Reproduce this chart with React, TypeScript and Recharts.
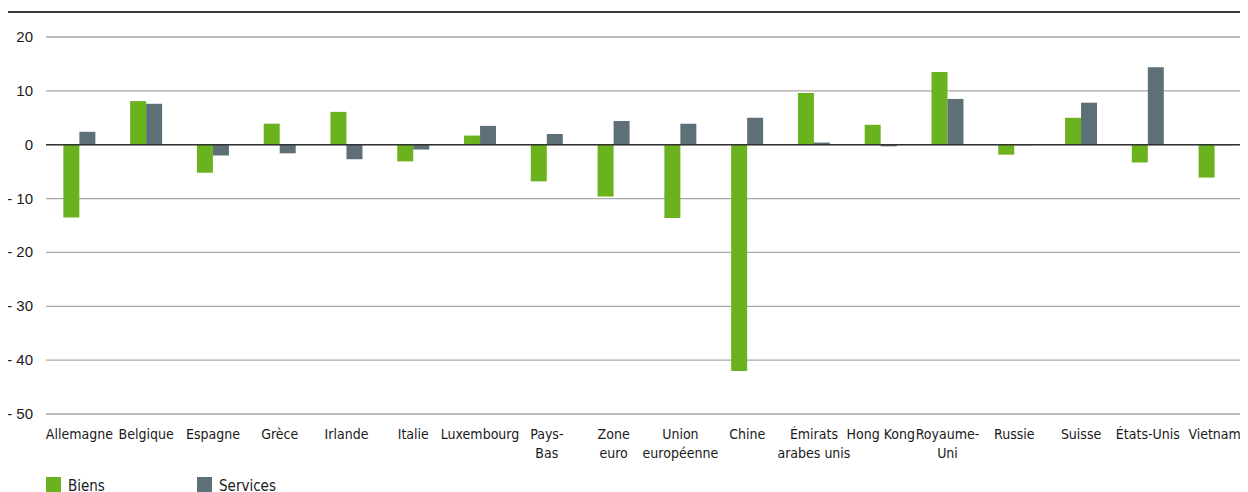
import React from "react";
import { BarChart, Bar, XAxis, YAxis, CartesianGrid, ReferenceLine, Legend } from "recharts";

const categories = [
  "Allemagne",
  "Belgique",
  "Espagne",
  "Grèce",
  "Irlande",
  "Italie",
  "Luxembourg",
  "Pays-\nBas",
  "Zone\neuro",
  "Union\neuropéenne",
  "Chine",
  "Émirats\narabes unis",
  "Hong Kong",
  "Royaume-\nUni",
  "Russie",
  "Suisse",
  "États-Unis",
  "Vietnam",
];

const biens = [-13.5, 8.1, -5.2, 3.9, 6.1, -3.1, 1.7, -6.8, -9.6, -13.6, -42.0, 9.6, 3.7, 13.5, -1.85, 5.0, -3.3, -6.1];
const services = [2.4, 7.6, -2.0, -1.6, -2.7, -0.9, 3.5, 2.0, 4.4, 3.9, 5.0, 0.4, -0.3, 8.5, -0.1, 7.8, 14.4, -0.1];

const yTicks = [20, 10, 0, -10, -20, -30, -40, -50];

const seriesNames = { biens: "Biens", services: "Services" };
const colors = { biens: "#6AB31F", services: "#5E7077" };

const data = categories.map((c, i) => ({ name: c, biens: biens[i], services: services[i] }));

const labelFont = "'DejaVu Sans Condensed', 'Liberation Sans Narrow', 'DejaVu Sans', sans-serif";

const XTick = (props: any) => {
  const { x, payload } = props;
  const lines = String(payload.value).split("\n");
  return (
    <text x={x} y={439} textAnchor="middle" fontFamily={labelFont} fontSize={14} fill="#1a1a1a">
      {lines.map((l, i) => (
        <tspan key={i} x={x} dy={i === 0 ? 0 : 19}>
          {l}
        </tspan>
      ))}
    </text>
  );
};

const YTick = (props: any) => {
  const { y, payload } = props;
  const v = payload.value as number;
  const label = v < 0 ? "- " + Math.abs(v) : String(v);
  return (
    <text x={33} y={y} dy={5} textAnchor="end" fontFamily="'Liberation Sans', Arial, sans-serif" fontSize={15} fill="#1a1a1a">
      {label}
    </text>
  );
};

const LegendContent = () => (
  <div style={{ display: "flex", fontFamily: labelFont, fontSize: 15, color: "#1a1a1a", lineHeight: "16px" }}>
    {(["biens", "services"] as const).map((k) => (
      <div key={k} style={{ display: "flex", alignItems: "flex-start", width: 151 }}>
        <span style={{ display: "inline-block", width: 15, height: 16, background: colors[k], marginRight: 7 }} />
        <span style={{ marginTop: 1 }}>{seriesNames[k]}</span>
      </div>
    ))}
  </div>
);

export default function App() {
  return (
    <div
      style={{
        position: "relative",
        margin: "-8px -8px 0 -8px",
        width: 1248,
        height: 492,
        overflow: "hidden",
        background: "#fff",
      }}
    >
      <div
        style={{
          position: "absolute",
          left: 47,
          top: -12,
          fontFamily: labelFont,
          fontSize: 16,
          color: "#6AB31F",
          whiteSpace: "nowrap",
          lineHeight: "16px",
        }}
      >
        Variation des soldes en glissement, en pp du PIB
      </div>
      <div style={{ position: "absolute", left: 8, top: 11, width: 1240, height: 2, background: "#3a3a3a" }} />
      <div style={{ position: "absolute", left: 0, top: 0 }}>
        <BarChart
          width={1248}
          height={492}
          data={data}
          margin={{ top: 37, right: 0, bottom: 0, left: 0 }}
          barCategoryGap="26%"
          barGap={0}
        >
          <CartesianGrid vertical={false} stroke="#a8a8a8" strokeWidth={1.3} />
          <XAxis dataKey="name" interval={0} tickLine={false} axisLine={false} height={59} tick={<XTick />} />
          <YAxis
            domain={[-50, 20]}
            ticks={yTicks}
            width={46}
            tickLine={false}
            axisLine={false}
            tick={<YTick />}
            allowDataOverflow
          />
          <Legend
            content={<LegendContent />}
            wrapperStyle={{ position: "absolute", left: 46, top: 477, width: 400, height: 19 }}
          />
          <Bar dataKey="biens" name="Biens" fill={colors.biens} isAnimationActive={false} />
          <Bar dataKey="services" name="Services" fill={colors.services} isAnimationActive={false} />
          <ReferenceLine y={0} stroke="#333" strokeWidth={1.5} />
        </BarChart>
      </div>
    </div>
  );
}
